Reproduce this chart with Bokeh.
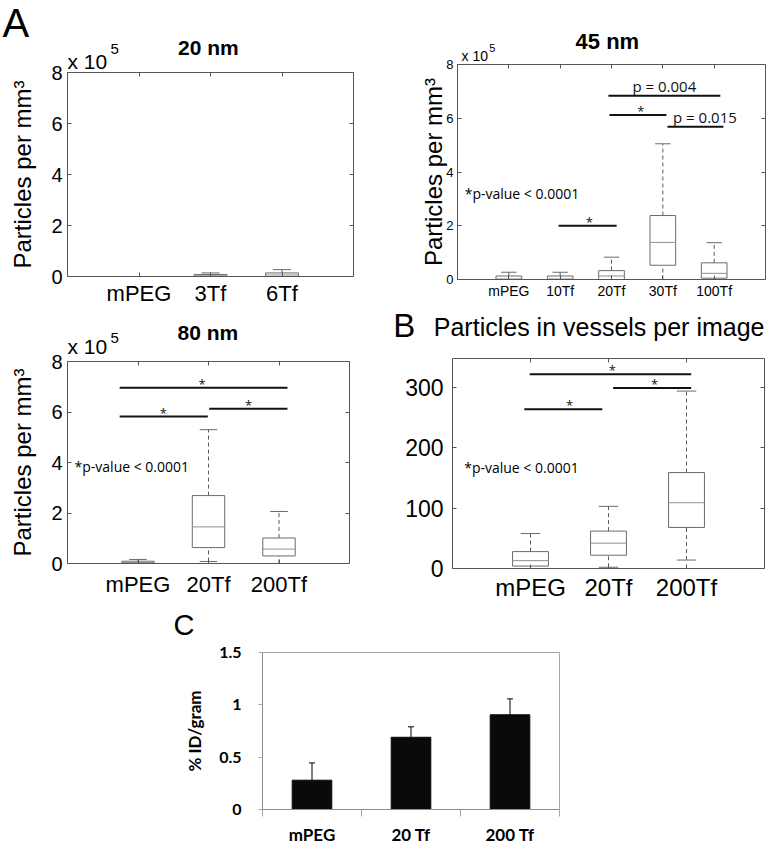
from bokeh.plotting import figure
from bokeh.models import Range1d, FixedTicker, LinearAxis, Label, ColumnDataSource
from bokeh.layouts import row, column
from bokeh.core.properties import value
from bokeh.embed import file_html
from bokeh.resources import INLINE

# ---------------- data (particle counts in units of 1e5 per mm^3) ----------------
cats20 = ["mPEG", "3Tf", "6Tf"]
lo20 = [0.0, 0.0, 0.0]
q1_20 = [0.0, 0.0, 0.0]
med20 = [0.0, 0.03, 0.06]
q3_20 = [0.0, 0.08, 0.14]
hi20 = [0.0, 0.14, 0.27]

cats45 = ["mPEG", "10Tf", "20Tf", "30Tf", "100Tf"]
lo45 = [0.0, 0.0, 0.0, 0.0, 0.0]
q1_45 = [0.0, 0.0, 0.0, 0.53, 0.05]
med45 = [0.02, 0.02, 0.13, 1.38, 0.23]
q3_45 = [0.13, 0.13, 0.33, 2.38, 0.62]
hi45 = [0.27, 0.27, 0.83, 5.05, 1.37]
sig45_x0 = [1.97, 2.96, 2.94, 4.09]
sig45_x1 = [3.10, 4.07, 5.12, 5.18]
sig45_y = [2.0, 6.12, 6.84, 5.68]
sig45_text = ["*", "*", "p = 0.004", "p = 0.015"]
sig45_tx = [2.57, 3.57, 4.03, 4.82]

cats80 = ["mPEG", "20Tf", "200Tf"]
lo80 = [0.0, 0.08, 0.0]
q1_80 = [0.0, 0.63, 0.30]
med80 = [0.04, 1.45, 0.57]
q3_80 = [0.09, 2.69, 1.01]
hi80 = [0.16, 5.30, 2.06]
sig80_x0 = [0.74, 0.74, 2.01]
sig80_x1 = [3.12, 1.99, 3.12]
sig80_y = [6.96, 5.82, 6.13]
sig80_text = ["*", "*", "*"]
sig80_tx = [1.91, 1.36, 2.57]

catsB = ["mPEG", "20Tf", "200Tf"]
loB = [0, 2, 14]
q1B = [4, 22, 68]
medB = [13, 42, 109]
q3B = [28, 62, 159]
hiB = [58, 103, 294]
sigB_x0 = [0.92, 0.99, 2.06]
sigB_x1 = [1.92, 3.06, 3.06]
sigB_y = [264, 322, 299]
sigB_text = ["*", "*", "*"]
sigB_tx = [1.50, 2.05, 2.59]

catsC = ["mPEG", "20 Tf", "200 Tf"]
valC = [0.28, 0.69, 0.905]
errC = [0.165, 0.10, 0.152]

yticksA = [0, 2, 4, 6, 8]
yticksB = [0, 100, 200, 300]
yticksC = [0, 0.5, 1, 1.5]
ylabC = ["0", "0.5", "1", "1.5"]

# ---------------- styles ----------------
FONT = "Liberation Sans"
NOTE = "Open Sans"
FRAME = "#555555"
BOXC = "#6b6b6b"
MEDC = "#909090"
WHIC = "#5a5a5a"
CGREY = "#a6a6a6"


def make_fig(w, h, origin, box, dbox):
    """Figure whose frame fills the canvas; the data box dbox=(x0,x1,y0,y1)
    lands on the page rectangle box=(left,right,top,bottom)."""
    ox, oy = origin
    L, R, T, B = box
    x0, x1, y0, y1 = dbox
    sx = (R - L) / (x1 - x0)
    sy = (B - T) / (y1 - y0)
    xr = (x0 - (L - ox) / sx, x0 + (w - (L - ox)) / sx)
    yr = (y0 - (h - (B - oy)) / sy, y1 + (T - oy) / sy)
    p = figure(width=w, height=h, x_range=Range1d(*xr), y_range=Range1d(*yr),
               output_backend="svg", toolbar_location=None,
               x_axis_type=None, y_axis_type=None, min_border=0)
    p.outline_line_color = None
    p.background_fill_color = "white"
    p.border_fill_color = "white"
    return p


def mk_axis(ticks, bounds, fixed, tin=4, tout=0, color=FRAME, overrides=None,
            font=FONT, fs="1px", so=0, show=False, style="normal", minor=None):
    ticker = FixedTicker(ticks=ticks, minor_ticks=minor or [])
    ax = LinearAxis(ticker=ticker, bounds=bounds, fixed_location=fixed)
    ax.major_tick_in = tin
    ax.major_tick_out = tout
    ax.minor_tick_in = 0
    ax.minor_tick_out = 0
    ax.minor_tick_line_color = None
    ax.axis_line_color = color
    ax.major_tick_line_color = color
    if overrides:
        ax.major_label_overrides = overrides
    ax.major_label_text_font = font
    ax.major_label_text_font_size = fs
    ax.major_label_text_font_style = style
    ax.major_label_standoff = so
    ax.major_label_text_color = "black" if show else None
    return ax


def matlab_axes(p, cats, yticks, ymax, tick_fs, cat_fs, tick_so, cat_so,
                ylabel=None, ylabel_so=0):
    xt = list(range(1, len(cats) + 1))
    xmax = len(cats) + 1
    xb = mk_axis(xt, (0, xmax), 0, overrides={t: c for t, c in zip(xt, cats)},
                 fs=cat_fs, so=cat_so, show=True)
    p.add_layout(xb, "below")
    yl = mk_axis(yticks, (0, ymax), 0, fs=tick_fs, so=tick_so, show=True)
    if ylabel:
        yl.axis_label = ylabel
        yl.axis_label_text_font = FONT
        yl.axis_label_text_font_size = "24px"
        yl.axis_label_text_font_style = "normal"
        yl.axis_label_text_color = "black"
        yl.axis_label_standoff = ylabel_so
    p.add_layout(yl, "left")
    p.add_layout(mk_axis(xt, (0, xmax), ymax), "above")
    p.add_layout(mk_axis(yticks, (0, ymax), xmax), "right")


def draw_boxes(p, lo, q1, med, q3, hi, bw=0.46, cw=0.25):
    xs = list(range(1, len(lo) + 1))
    src = ColumnDataSource(dict(
        x=xs, lo=lo, q1=q1, med=med, q3=q3, hi=hi,
        xl=[x - bw / 2 for x in xs], xr=[x + bw / 2 for x in xs],
        cl=[x - cw / 2 for x in xs], cr=[x + cw / 2 for x in xs]))
    p.segment("x", "q3", "x", "hi", source=src, line_color=WHIC, line_dash="4 3", line_width=1)
    p.segment("x", "lo", "x", "q1", source=src, line_color=WHIC, line_dash="4 3", line_width=1)
    p.segment("cl", "hi", "cr", "hi", source=src, line_color=BOXC, line_width=1)
    p.segment("cl", "lo", "cr", "lo", source=src, line_color=BOXC, line_width=1)
    p.quad(left="xl", right="xr", bottom="q1", top="q3", source=src,
           fill_color=None, line_color=BOXC, line_width=1)
    p.segment("xl", "med", "xr", "med", source=src, line_color=MEDC, line_width=1)


def draw_sig(p, x0, x1, y, txt, tx):
    fs = ["13px" if t == "*" else "15px" for t in txt]
    off = [-4 if t == "*" else -10 for t in txt]
    src = ColumnDataSource(dict(x0=x0, x1=x1, y=y, txt=txt, tx=tx, fs=fs, off=off))
    p.segment("x0", "y", "x1", "y", source=src, line_color="#111111", line_width=2)
    p.text(x="tx", y="y", text="txt", source=src, text_font=value(NOTE),
           text_font_size="fs", y_offset="off", text_align="center",
           text_baseline="middle", text_color="#111111")


def lab(p, x, y, text, size, font=FONT, style="normal", align="left",
        baseline="middle"):
    p.add_layout(Label(x=x, y=y, text=text, text_font=font, text_font_size=size,
                       text_font_style=style, text_align=align,
                       text_baseline=baseline, text_color="black"))


YLAB = "Particles per mm\u00b3"

# ---------------- A: 20 nm ----------------
p20 = make_fig(390, 305, (0, 0), (67, 353, 72, 276), (0, 4, 0, 8))
matlab_axes(p20, cats20, yticksA, 8, "20px", "22px", 5, 4, YLAB, 12)
draw_boxes(p20, lo20, q1_20, med20, q3_20, hi20)
lab(p20, -0.91, 9.94, "A", "40px")
lab(p20, 1.97, 9.0, "20 nm", "21px", style="bold", align="center")
lab(p20, 0.0, 8.45, "x 10", "21px")
lab(p20, 0.60, 8.94, "5", "15px")

# ---------------- A: 45 nm ----------------
p45 = make_fig(393, 305, (390, 0), (457, 765, 64, 279), (0, 6, 0, 8))
matlab_axes(p45, cats45, yticksA, 8, "13px", "14px", 4, 3, YLAB, -4)
draw_boxes(p45, lo45, q1_45, med45, q3_45, hi45, bw=0.5, cw=0.3)
draw_sig(p45, sig45_x0, sig45_x1, sig45_y, sig45_text, sig45_tx)
lab(p45, 2.92, 8.87, "45 nm", "22px", style="bold", align="center")
lab(p45, 0.08, 8.32, "x 10", "14px")
lab(p45, 0.62, 8.6, "5", "11px")
lab(p45, 0.14, 3.2, "*p-value < 0.0001", "14px", font=NOTE)

# ---------------- A: 80 nm ----------------
p80 = make_fig(390, 297, (0, 305), (67, 349, 361, 563), (0, 4, 0, 8))
matlab_axes(p80, cats80, yticksA, 8, "20px", "22px", 5, 8, YLAB, 12)
draw_boxes(p80, lo80, q1_80, med80, q3_80, hi80)
draw_sig(p80, sig80_x0, sig80_x1, sig80_y, sig80_text, sig80_tx)
lab(p80, 1.99, 9.15, "80 nm", "21px", style="bold", align="center")
lab(p80, 0.0, 8.61, "x 10", "21px")
lab(p80, 0.61, 8.93, "5", "15px")
lab(p80, 0.1, 3.84, "*p-value < 0.0001", "14px", font=NOTE)

# ---------------- B ----------------
pB = make_fig(393, 297, (390, 305), (452, 764, 358, 568), (0, 4, 0, 348))
matlab_axes(pB, catsB, yticksB, 348, "23px", "24px", 9, 5)
draw_boxes(pB, loB, q1B, medB, q3B, hiB)
draw_sig(pB, sigB_x0, sigB_x1, sigB_y, sigB_text, sigB_tx)
lab(pB, -0.76, 403, "B", "33px")
lab(pB, -0.24, 401, "Particles in vessels per image", "25px")
lab(pB, 0.15, 167, "*p-value < 0.0001", "14px", font=NOTE)

# ---------------- C ----------------
pC = make_fig(783, 243, (0, 602), (262, 559, 652, 809), (0.5, 3.5, 0, 1.5))
xc = [1, 2, 3]
srcC = ColumnDataSource(dict(x=xc, v=valC, top=[v + e for v, e in zip(valC, errC)],
                             cl=[x - 0.03 for x in xc], cr=[x + 0.03 for x in xc]))
pC.segment("x", "v", "x", "top", source=srcC, line_color="black", line_width=1)
pC.segment("cl", "top", "cr", "top", source=srcC, line_color="black", line_width=1)
pC.vbar(x="x", top="v", bottom=0, width=0.40, source=srcC,
        fill_color="#0a0a0a", line_color="#0a0a0a")

xbC = mk_axis(xc, (0.5, 3.5), 0, tin=0, tout=0, color="#8c8c8c",
              overrides={t: c for t, c in zip(xc, catsC)}, font="Lato",
              fs="17px", so=7, show=True, style="bold",
              minor=[0.5, 1.5, 2.5, 3.5])
xbC.minor_tick_in = 0
xbC.minor_tick_out = 7
xbC.minor_tick_line_color = CGREY
pC.add_layout(xbC, "below")

ylC = mk_axis(yticksC, (0, 1.5), 0.5, tin=0, tout=4, color="#8c8c8c",
              overrides={t: s for t, s in zip(yticksC, ylabC)}, font="Lato",
              fs="16px", so=17, show=True, style="bold")
ylC.major_tick_line_color = CGREY
ylC.axis_label = "% ID/gram"
ylC.axis_label_text_font = "Lato"
ylC.axis_label_text_font_style = "bold"
ylC.axis_label_text_font_size = "17px"
ylC.axis_label_text_color = "black"
ylC.axis_label_standoff = 11
pC.add_layout(ylC, "left")
pC.add_layout(mk_axis([], (0.5, 3.5), 1.5, tin=0, color=CGREY), "above")
pC.add_layout(mk_axis([], (0, 1.5), 3.5, tin=0, color=CGREY), "right")
lab(pC, -0.40, 1.76, "C", "29px")

layout = column(row(p20, p45), row(p80, pB), pC)
open("out.html", "w").write(file_html(layout, INLINE, "Figure"))
